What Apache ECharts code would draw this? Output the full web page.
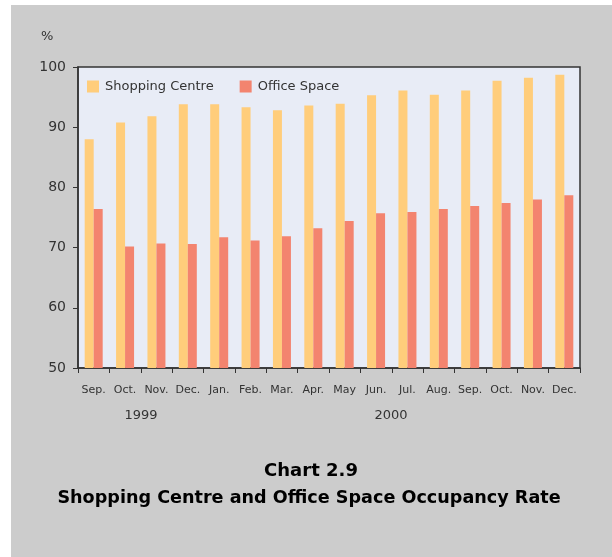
<!DOCTYPE html>
<html>
<head>
<meta charset="utf-8">
<script src="https://cdn.jsdelivr.net/npm/echarts@6/dist/echarts.min.js"></script>
<style>
html,body{margin:0;padding:0;background:#ffffff;}
#chart{width:612px;height:557px;}
</style>
</head>
<body>
<div id="chart"></div>
<script>
var months = ['Sep.', 'Oct.', 'Nov.', 'Dec.', 'Jan.', 'Feb.', 'Mar.', 'Apr.', 'May', 'Jun.', 'Jul.', 'Aug.', 'Sep.', 'Oct.', 'Nov.', 'Dec.'];
var shoppingCentre = [88.0, 90.8, 91.8, 93.8, 93.8, 93.3, 92.8, 93.6, 93.9, 95.3, 96.1, 95.4, 96.1, 97.7, 98.2, 98.7];
var officeSpace = [76.4, 70.2, 70.7, 70.6, 71.7, 71.2, 71.9, 73.2, 74.4, 75.7, 75.9, 76.4, 76.9, 77.4, 78.0, 78.7];
var yTicks = [50, 60, 70, 80, 90, 100];
var years = ['1999', '2000'];
var titleLines = ['Chart 2.9', 'Shopping Centre and Office Space Occupancy Rate'];

var font = 'DejaVu Sans';
var chart = echarts.init(document.getElementById('chart'), null, {renderer: 'canvas'});
chart.setOption({
  backgroundColor: '#ffffff',
  animation: false,
  graphic: [
    {type: 'rect', z: -10, silent: true, shape: {x: 11, y: 5, width: 601, height: 552}, style: {fill: '#cccccc'}},
    {type: 'text', left: 41, top: 30, style: {text: '%', font: '13px "' + font + '"', fill: '#333333'}},
    {type: 'text', x: 141, y: 416, style: {text: years[0], font: '13px "' + font + '"', fill: '#333333', align: 'center', verticalAlign: 'middle'}},
    {type: 'text', x: 391, y: 416, style: {text: years[1], font: '13px "' + font + '"', fill: '#333333', align: 'center', verticalAlign: 'middle'}},
    {type: 'text', x: 311, y: 471, style: {text: titleLines[0], font: 'bold 18px "' + font + '"', fill: '#000000', align: 'center', verticalAlign: 'middle'}},
    {type: 'text', x: 309, y: 498, style: {text: titleLines[1], font: 'bold 17.6px "' + font + '"', fill: '#000000', align: 'center', verticalAlign: 'middle'}}
  ],
  legend: {
    left: 87, top: 80, padding: 0,
    itemWidth: 12, itemHeight: 12, itemGap: 26,
    icon: 'rect',
    textStyle: {fontFamily: font, fontSize: 13, color: '#333333', padding: [0, 0, 0, 1]},
    data: ['Shopping Centre', 'Office Space']
  },
  grid: {left: 78, right: 32, top: 67, bottom: 189, show: true, backgroundColor: '#e8ecf6', borderColor: '#333333', borderWidth: 1.5},
  xAxis: {
    type: 'category',
    data: months,
    axisLine: {lineStyle: {color: '#333333', width: 1.5}},
    axisTick: {show: true, length: 5, lineStyle: {color: '#333333'}},
    axisLabel: {fontFamily: font, fontSize: 11, color: '#333333', margin: 17, interval: 0}
  },
  yAxis: {
    type: 'value', min: yTicks[0], max: yTicks[yTicks.length - 1], interval: 10,
    axisLine: {show: true, lineStyle: {color: '#333333', width: 1.5}},
    axisTick: {show: true, length: 5, lineStyle: {color: '#333333'}},
    axisLabel: {fontFamily: font, fontSize: 14, color: '#333333', margin: 12},
    splitLine: {show: false}
  },
  series: [
    {name: 'Shopping Centre', type: 'bar', data: shoppingCentre, barWidth: 9, barGap: '0%', itemStyle: {color: '#ffcd7b'}},
    {name: 'Office Space', type: 'bar', data: officeSpace, barWidth: 9, barGap: '0%', itemStyle: {color: '#f3846f'}}
  ]
});
</script>
</body>
</html>
